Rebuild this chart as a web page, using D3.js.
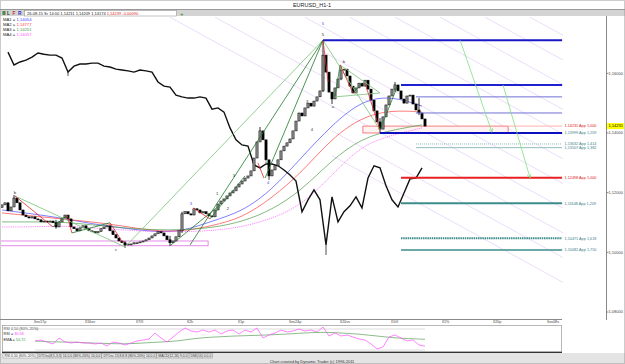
<!DOCTYPE html>
<html>
<head>
<meta charset="utf-8">
<script src="https://cdn.jsdelivr.net/npm/d3@7"></script>
<style>
  body { margin: 0; background: #fff; }
  svg { display: block; font-family: "Liberation Sans", Arial, sans-serif; }
</style>
</head>
<body>
<div id="chart"></div>
<script>
// EURUSD H1 closes, one per bar
const closes = [
  1.1159, 1.1166, 1.1139, 1.1152, 1.1182, 1.1166, 1.1142, 1.1125, 1.1119, 1.1115,
  1.1119, 1.1112, 1.1109, 1.1102, 1.1105, 1.1102, 1.1105, 1.1099, 1.1085, 1.1102,
  1.1115, 1.1125, 1.1112, 1.1085, 1.1079, 1.1072, 1.1082, 1.1089, 1.1079, 1.1072,
  1.1069, 1.1065, 1.1069, 1.1079, 1.1085, 1.1089, 1.1072, 1.1059, 1.1048, 1.1038,
  1.1032, 1.1025, 1.1028, 1.1028, 1.1032, 1.1032, 1.1035, 1.1038, 1.1042, 1.1048,
  1.1055, 1.1062, 1.1069, 1.1065, 1.1055, 1.1042, 1.1032, 1.1038, 1.1052, 1.1072,
  1.1129, 1.1136, 1.1129, 1.1125, 1.1146, 1.1142, 1.1132, 1.1136, 1.1129, 1.1122,
  1.1119, 1.1142, 1.1162, 1.1172, 1.1179, 1.1189, 1.1199, 1.1206, 1.1219, 1.1229,
  1.1239, 1.1249, 1.1256, 1.1273, 1.1316, 1.1370, 1.1407, 1.1377, 1.1310, 1.1256,
  1.1276, 1.1290, 1.1310, 1.1340, 1.1356, 1.1367, 1.1380, 1.1407, 1.1440, 1.1467,
  1.1457, 1.1484, 1.1500, 1.1490, 1.1507, 1.1521, 1.1541, 1.1661, 1.1604, 1.1537,
  1.1514, 1.1551, 1.1581, 1.1611, 1.1614, 1.1591, 1.1557, 1.1534, 1.1551, 1.1567,
  1.1557, 1.1577, 1.1547, 1.1510, 1.1474, 1.1437, 1.1413, 1.1454, 1.1494, 1.1524,
  1.1547, 1.1561, 1.1541, 1.1514, 1.1500, 1.1524, 1.1527, 1.1497, 1.1477, 1.1467,
  1.1447, 1.1423
];
const firstOpen = 1.1150;

// bars with visible wicks
const wickBars = [4, 18, 41, 56, 60, 86, 89, 107, 110, 113, 126, 131, 139];
const wickHigh = [1.1192, 1.1109, 1.1038, 1.1055, 1.1136, 1.1420, 1.1283, 1.1711, 1.1537, 1.1624, 1.1450, 1.1571, 1.1517];
const wickLow  = [1.1159, 1.1079, 1.1015, 1.1022, 1.1065, 1.1377, 1.1243, 1.1537, 1.1497, 1.1577, 1.1400, 1.1537, 1.1460];

// overlaid comparison series, every 2nd bar starting at bar 2
const overlayStart = 2, overlayStep = 2;
const overlayClose = [
  1.1671, 1.1628, 1.1638, 1.1644, 1.1654, 1.1668, 1.1664, 1.1661, 1.1661, 1.1651,
  1.1604, 1.1624, 1.1631, 1.1631, 1.1634, 1.1634, 1.1624, 1.1621, 1.1614, 1.1611,
  1.1608, 1.1604, 1.1611, 1.1608, 1.1604, 1.1571, 1.1557, 1.1554, 1.1527, 1.1521,
  1.1517, 1.1517, 1.1521, 1.1517, 1.1480, 1.1484, 1.1470, 1.1417, 1.1377, 1.1360,
  1.1356, 1.1293, 1.1283, 1.1296, 1.1296, 1.1290, 1.1276, 1.1259, 1.1239, 1.1136,
  1.1176, 1.1209, 1.1176, 1.1025, 1.1186, 1.1102, 1.1136, 1.1156, 1.1186, 1.1149,
  1.1249, 1.1290, 1.1283, 1.1223, 1.1176, 1.1152, 1.1199, 1.1246, 1.1249, 1.1283
];
const overlayWickBars = [22, 108];
const overlayWickLow = [1.1591, 1.0991];

// moving averages sampled every 10 bars
const maBars = [0, 10, 20, 30, 40, 50, 60, 70, 80, 90, 100, 110, 120, 130, 140];
const ma1 = [1.1142, 1.1129, 1.1115, 1.1095, 1.1082, 1.1069, 1.1069, 1.1105, 1.1136, 1.1209, 1.1320, 1.1427, 1.1510, 1.1524, 1.1490];
const ma2 = [1.1132, 1.1122, 1.1112, 1.1102, 1.1089, 1.1072, 1.1069, 1.1089, 1.1115, 1.1182, 1.1269, 1.1383, 1.1454, 1.1477, 1.1470];
const ma3 = [1.1102, 1.1102, 1.1102, 1.1092, 1.1082, 1.1075, 1.1075, 1.1082, 1.1102, 1.1142, 1.1209, 1.1310, 1.1383, 1.1410, 1.1427];
const ma4 = [1.1085, 1.1085, 1.1089, 1.1082, 1.1075, 1.1069, 1.1069, 1.1072, 1.1085, 1.1112, 1.1159, 1.1259, 1.1360, 1.1393, 1.1417];
const maNames = ["MA1", "MA2", "MA3", "MA4"];
const maValues = ["1,14054", "1,14777", "1,14251", "1,14057"];

// projection levels
const levelPrice = [1.1711, 1.1561, 1.1521, 1.1467, 1.14231, 1.1400, 1.13632, 1.13507, 1.12498, 1.11648, 1.10471, 1.10082];
const levelFrom  = [107, 133, 138, 138, 169, 126, 138, 138, 133, 133, 133, 133];
const levelText  = ["", "", "", "", "1,14231 App 1,000", "1,13999 App 1,209", "1,13632 App 1,414", "1,13507 App 1,382",
                    "1,12498 App 1,000", "1,11648 App 1,209", "1,10471 App 1,618", "1,10082 App 1,750"];

// parallel channel lines: start bar at the top price, slope in price per bar
const channelTopPrice = 1.1788;
const channelStartBars = [56, 71, 86, 101, 116, 131, 146, 161, 176];
const channelSlope = -0.000552;
// lower channel lines only drawn from the peak onwards
const channelLowerTopBars = [26, 41];
const channelLowerFrom = 110;

// wave drawing segments [bar, price]
const lightGreenLines = [
  [[4.3, 1.1189], [41, 1.1018]],
  [[41, 1.1018], [107, 1.1711]],
  [[107, 1.1711], [126, 1.1410]],
  [[111, 1.1521], [126, 1.1534]],
  [[112.7, 1.1628], [126, 1.1534]]
];
const darkGreenLines = [
  [[62.7, 1.1025], [107, 1.1711]],
  [[87.7, 1.1249], [107, 1.1711]],
  [[56, 1.1022], [72.7, 1.1159]],
  [[17, 1.1085], [21.7, 1.1125]],
  [[23.3, 1.1065], [36, 1.1099]],
  [[69.3, 1.1112], [81, 1.1256]],
  [[111, 1.1521], [112.7, 1.1628]],
  [[117, 1.1534], [120, 1.1567]],
  [[126, 1.1410], [131.7, 1.1554]]
];
const redLines = [
  [[4.3, 1.1189], [17, 1.1085]],
  [[21.7, 1.1125], [23.3, 1.1065]],
  [[36, 1.1099], [40.3, 1.1032]],
  [[63.7, 1.1149], [69.3, 1.1112]],
  [[85.3, 1.1300], [87.3, 1.1249]],
  [[107, 1.1711], [108.7, 1.1571]],
  [[112.7, 1.1628], [117, 1.1534]],
  [[121, 1.1567], [126, 1.1410]]
];
const arrowFrom = [[152.7, 1.1711], [167, 1.1561]];
const arrowTo   = [[163.3, 1.1403], [176, 1.1250]];

// boxes [bar0, bar1, priceTop, priceBottom]
const redBox  = [120.3, 168.7, 1.14231, 1.1400];
const pinkBox = [-1, 68.7, 1.1038, 1.1022];

const waveText  = ["b", "c", "5", "5", "a", "b", "1", "2", "3", "4", "1", "3", "4", "3"];
const waveBar   = [4.3, 38, 107, 107, 110.3, 114, 71.7, 75.3, 77.3, 88.7, 88, 101.7, 103.3, 63];
const wavePrice = [1.1202, 1.1008, 1.1768, 1.1731, 1.1490, 1.1638, 1.1196, 1.1146, 1.1256, 1.1233, 1.1303, 1.1507, 1.1413, 1.1162];

const priceTicks = [1.16, 1.14, 1.12, 1.10, 1.08];
const lastPrice = 1.14231;
const dateTickBars = [11, 28, 45, 62, 79, 96, 113, 130, 147, 164, 182];
const dateTickLabels = ["ex17p", "16ev", "7/II", "2h", "1p", "ex24p", "20vs", "1tII", "1%", "20p", "ex08s"];

// RSI every 2nd bar from bar 11
const rsiStart = 11, rsiStep = 2;
const rsi = [
  45.7, 48.6, 42.9, 37.1, 54.3, 42.9, 40.0, 42.9, 40.0, 40.0,
  37.1, 40.0, 31.4, 42.9, 40.0, 34.3, 40.0, 45.7, 48.6, 51.4,
  68.6, 54.3, 42.9, 57.1, 71.4, 82.9, 74.3, 71.4, 77.1, 71.4,
  77.1, 65.7, 74.3, 77.1, 65.7, 77.1, 71.4, 82.9, 54.3, 62.9,
  68.6, 77.1, 71.4, 74.3, 80.0, 74.3, 77.1, 71.4, 85.7, 60.0,
  68.6, 60.0, 62.9, 57.1, 51.4, 48.6, 37.1, 22.9, 28.6, 57.1,
  62.9, 54.3, 45.7, 48.6, 34.3, 30.6
];
const emaBars = [11, 17, 23, 29, 35, 41, 47, 53, 59, 65, 71, 77, 83, 89, 95, 101, 107, 113, 119, 125, 131, 137, 141];
const ema = [45.7, 42.9, 42.9, 40.0, 38.6, 37.1, 40.0, 42.9, 45.7, 54.3, 57.1, 60.0, 61.4, 62.9, 65.7, 68.6, 71.4, 68.6, 65.7, 60.0, 54.3, 52.0, 50.7];
const tabs = ["RSI 0,50 (80%-20%)", "DTOsc(8,5,3,3) 14,0,0 (80%-20%) 14,0,0", "DTOsc 13,8,8,8 (80%-20%) 14,0,0", "MACD(12,26) 9,0,0", "DMI(14) 0,0,0"];

const W = 625, H = 364;
const svg = d3.select("#chart").append("svg").attr("width", W).attr("height", H);

const x = d3.scaleLinear().domain([0, 187]).range([2, 563]);
const y = d3.scaleLinear().domain([1.08, 1.16]).range([312, 73.3]);
const yr = d3.scaleLinear().domain([20, 80]).range([350, 329]);
const fmt = (p) => d3.format(".5f")(p).replace(".", ",");

// window chrome
svg.append("rect").attr("width", W).attr("height", H).attr("fill", "#fff");
svg.append("rect").attr("x", 0).attr("y", 9).attr("width", W).attr("height", 7).attr("fill", "#d4d4d4");
svg.append("line").attr("x1", 0).attr("x2", W).attr("y1", 9.5).attr("y2", 9.5).attr("stroke", "#999");
svg.append("rect").attr("x", 0).attr("y", 353).attr("width", W).attr("height", 11).attr("fill", "#e4e4e4");
svg.append("rect").attr("x", 0.5).attr("y", 0.5).attr("width", W - 1).attr("height", H - 1)
  .attr("fill", "none").attr("stroke", "#999").attr("stroke-dasharray", "1,1");
svg.append("text").attr("x", 312).attr("y", 7).attr("text-anchor", "middle")
  .attr("font-size", 5.5).attr("fill", "#222").text("EURUSD_H1-1");

// toolbar
svg.append("rect").attr("x", 24.5).attr("y", 10.5).attr("width", 152).attr("height", 5.5)
  .attr("fill", "#fff").attr("stroke", "#888").attr("stroke-width", 0.5);
[["L", "#333"], ["F", "#c03030"], ["R", "#3030c0"]].forEach(([t, c], k) => {
  svg.append("text").attr("x", 7 + k * 5.5).attr("y", 15).attr("font-size", 4.8)
    .attr("font-weight", "bold").attr("fill", c).text(t);
});
svg.append("rect").attr("x", 2.5).attr("y", 11).attr("width", 3).attr("height", 4).attr("fill", "#4a8a4a");
const ohlc = svg.append("text").attr("x", 27).attr("y", 15).attr("font-size", 4);
ohlc.append("tspan").attr("fill", "#222").text("26-08-15 Sr 14:00   1,14211   1,14209   1,14174   ");
ohlc.append("tspan").attr("fill", "#e02020").text("1,14239   -0,00090");
svg.append("text").attr("x", 180).attr("y", 15.5).attr("font-size", 6).attr("font-weight", "bold")
  .attr("fill", "#3a9a3a").text("+");

// plot area
svg.append("clipPath").attr("id", "plotClip").append("rect")
  .attr("x", 1).attr("y", 16.5).attr("width", 605).attr("height", 302);
const plot = svg.append("g").attr("clip-path", "url(#plotClip)");

// channel lines
const chanEnd = (b) => y(channelTopPrice + channelSlope * (187 - b));
plot.selectAll(".chan").data(channelStartBars).join("line")
  .attr("x1", (b) => x(b)).attr("y1", y(channelTopPrice))
  .attr("x2", x(187)).attr("y2", chanEnd)
  .attr("stroke", "#e2cff6").attr("stroke-width", 0.7);
plot.selectAll(".chanLow").data(channelLowerTopBars).join("line")
  .attr("x1", x(channelLowerFrom)).attr("y1", (b) => y(channelTopPrice + channelSlope * (channelLowerFrom - b)))
  .attr("x2", x(187)).attr("y2", chanEnd)
  .attr("stroke", "#e2cff6").attr("stroke-width", 0.7);

// boxes
plot.append("rect").attr("x", x(pinkBox[0])).attr("width", x(pinkBox[1]) - x(pinkBox[0]))
  .attr("y", y(pinkBox[2])).attr("height", y(pinkBox[3]) - y(pinkBox[2]))
  .attr("fill", "none").attr("stroke", "#e070e0").attr("stroke-width", 0.8);
plot.append("rect").attr("x", x(redBox[0])).attr("width", x(redBox[1]) - x(redBox[0]))
  .attr("y", y(redBox[2])).attr("height", y(redBox[3]) - y(redBox[2]))
  .attr("fill", "#fff2f2").attr("stroke", "#f06060").attr("stroke-width", 0.8);

// moving averages
const maLine = d3.line().x((d) => x(d[0])).y((d) => y(d[1])).curve(d3.curveBasis);
const maColors = ["#4848ff", "#ff4040", "#4c9c4c", "#ff50ff"];
[ma1, ma2, ma3, ma4].forEach((ma, k) => {
  plot.append("path").datum(maBars.map((b, j) => [b, ma[j]])).attr("d", maLine)
    .attr("fill", "none").attr("stroke", maColors[k]).attr("stroke-width", 0.7)
    .attr("stroke-dasharray", k === 3 ? "1.2,1" : null);
});

// overlay series
const ovLine = d3.line().x((d, k) => x(overlayStart + k * overlayStep)).y((d) => y(d));
plot.append("path").datum(overlayClose).attr("d", ovLine)
  .attr("fill", "none").attr("stroke", "#111").attr("stroke-width", 1.4).attr("stroke-linejoin", "miter");
overlayWickBars.forEach((b, k) => {
  plot.append("line").attr("x1", x(b)).attr("x2", x(b))
    .attr("y1", y(overlayClose[(b - overlayStart) / overlayStep])).attr("y2", y(overlayWickLow[k]))
    .attr("stroke", "#222").attr("stroke-width", 0.8);
});

// candles
const openOf = (i) => (i ? closes[i - 1] : firstOpen);
plot.selectAll(".wick").data(wickBars).join("line")
  .attr("x1", (b) => x(b)).attr("x2", (b) => x(b))
  .attr("y1", (b, k) => y(wickHigh[k])).attr("y2", (b, k) => y(wickLow[k]))
  .attr("stroke", "#000").attr("stroke-width", 0.8);
plot.selectAll(".bar").data(closes).join("rect")
  .attr("x", (d, i) => x(i) - 1.1).attr("width", 2.2)
  .attr("y", (d, i) => y(Math.max(d, openOf(i))))
  .attr("height", (d, i) => Math.max(1, Math.abs(y(d) - y(openOf(i)))))
  .attr("fill", (d, i) => (d >= openOf(i) ? "#8c8c8c" : "#000"))
  .attr("stroke", "#000").attr("stroke-width", 0.5);

// wave lines
const seg = (g, lines, color, w) => g.selectAll(null).data(lines).join("line")
  .attr("x1", (d) => x(d[0][0])).attr("y1", (d) => y(d[0][1]))
  .attr("x2", (d) => x(d[1][0])).attr("y2", (d) => y(d[1][1]))
  .attr("stroke", color).attr("stroke-width", w);
seg(plot, lightGreenLines, "#88c888", 0.9);
seg(plot, darkGreenLines, "#1f7a2a", 0.8);
seg(plot, redLines, "#e02828", 0.8);

// projection levels
const levelStyle = [
  { c: "#1818c8", w: 2 }, { c: "#2020d0", w: 2 }, { c: "#7070d8", w: 1 }, { c: "#7070d8", w: 1 },
  { c: "#ffb0b0", w: 1 }, { c: "#0c0cc0", w: 2 }, { c: "#90bcbc", w: 1, d: "1,1" }, { c: "#90bcbc", w: 1 },
  { c: "#e82020", w: 2 }, { c: "#3d8c8c", w: 2 }, { c: "#3d8c8c", w: 2, d: "1.5,0.7" }, { c: "#3d8c8c", w: 1.5 }
];
plot.selectAll(".lvl").data(levelPrice).join("line")
  .attr("x1", (p, k) => x(levelFrom[k])).attr("x2", x(186.7))
  .attr("y1", (p) => y(p)).attr("y2", (p) => y(p))
  .attr("stroke", (p, k) => levelStyle[k].c).attr("stroke-width", (p, k) => levelStyle[k].w)
  .attr("stroke-dasharray", (p, k) => levelStyle[k].d || null);
plot.selectAll(".lvlText").data(levelPrice).join("text")
  .attr("x", x(187) + 1.5).attr("y", (p) => y(p) + 1.4)
  .attr("font-size", 3.8)
  .attr("fill", (p, k) => (levelText[k].endsWith("1,000") ? "#e02020" : "#3d7f8a"))
  .text((p, k) => levelText[k]);

// arrows
const defs = svg.append("defs");
defs.append("marker").attr("id", "arr").attr("viewBox", "0 0 10 10").attr("refX", 9).attr("refY", 5)
  .attr("markerWidth", 5).attr("markerHeight", 5).attr("orient", "auto")
  .append("path").attr("d", "M0,0L10,5L0,10").attr("fill", "none").attr("stroke", "#70d870").attr("stroke-width", 1.5);
plot.selectAll(".arrow").data(arrowFrom).join("line")
  .attr("x1", (d) => x(d[0])).attr("y1", (d) => y(d[1]))
  .attr("x2", (d, k) => x(arrowTo[k][0])).attr("y2", (d, k) => y(arrowTo[k][1]))
  .attr("stroke", "#80e080").attr("stroke-width", 0.8).attr("marker-end", "url(#arr)");

// wave labels
plot.selectAll(".wave").data(waveText).join("text")
  .attr("x", (t, k) => x(waveBar[k])).attr("y", (t, k) => y(wavePrice[k]) + 1.5)
  .attr("text-anchor", "middle").attr("font-size", 4.2)
  .attr("fill", (t, k) => ([2, 9, 13].includes(k) ? "#4a4aff" : "#333"))
  .text((t) => t);

// MA legend
maNames.forEach((n, k) => {
  const t = svg.append("text").attr("x", 3).attr("y", 20.5 + k * 5).attr("font-size", 4.2);
  t.append("tspan").attr("fill", "#222").text(n + " = ");
  t.append("tspan").attr("fill", maColors[k]).text(maValues[k]);
});

// price axis
svg.append("line").attr("x1", 606.5).attr("x2", 606.5).attr("y1", 16).attr("y2", 320).attr("stroke", "#888");
svg.selectAll(".pt").data(priceTicks).join("line")
  .attr("x1", 606).attr("x2", 608.5).attr("y1", (p) => y(p)).attr("y2", (p) => y(p)).attr("stroke", "#888");
svg.selectAll(".ptl").data(priceTicks).join("text")
  .attr("x", 608.5).attr("y", (p) => y(p) + 1.4).attr("font-size", 4).attr("fill", "#444")
  .text((p) => fmt(p));
svg.append("rect").attr("x", 607).attr("y", y(lastPrice) - 3).attr("width", 17).attr("height", 6).attr("fill", "#ffff00");
svg.append("text").attr("x", 608.5).attr("y", y(lastPrice) + 1.4).attr("font-size", 4).attr("fill", "#000").text(fmt(lastPrice));

// date axis
svg.append("line").attr("x1", 0).attr("x2", 562).attr("y1", 319.5).attr("y2", 319.5).attr("stroke", "#888");
svg.selectAll(".dt").data(dateTickBars).join("line")
  .attr("x1", (b) => x(b)).attr("x2", (b) => x(b)).attr("y1", 319).attr("y2", 323).attr("stroke", "#888");
svg.selectAll(".dtl").data(dateTickBars).join("text")
  .attr("x", (b) => x(b) + 1).attr("y", 323.3).attr("font-size", 3.8).attr("fill", "#444")
  .text((b, k) => dateTickLabels[k]);

// RSI panel
svg.append("rect").attr("x", 2.5).attr("y", 325.5).attr("width", 559).attr("height", 26.5)
  .attr("fill", "#fff").attr("stroke", "#888").attr("stroke-width", 0.6);
svg.append("line").attr("x1", 2).attr("x2", 562).attr("y1", 352.3).attr("y2", 352.3).attr("stroke", "#333").attr("stroke-width", 1.2);
[80, 20].forEach((v) => {
  svg.append("line").attr("x1", x(rsiStart)).attr("x2", x(141)).attr("y1", yr(v)).attr("y2", yr(v))
    .attr("stroke", "#c8c8c8").attr("stroke-width", 0.6);
});
svg.append("path").datum(ema)
  .attr("d", d3.line().x((d, k) => x(emaBars[k])).y((d) => yr(d)).curve(d3.curveBasis))
  .attr("fill", "none").attr("stroke", "#5aa05a").attr("stroke-width", 0.7);
svg.append("path").datum(rsi)
  .attr("d", d3.line().x((d, k) => x(rsiStart + k * rsiStep)).y((d) => yr(d)))
  .attr("fill", "none").attr("stroke", "#ff50ff").attr("stroke-width", 0.7);
svg.append("text").attr("x", 3.5).attr("y", 329.5).attr("font-size", 3.8).attr("fill", "#444").text("RSI 0,50 (80%-20%)");
const rsiT = svg.append("text").attr("x", 3.5).attr("y", 335).attr("font-size", 3.8);
rsiT.append("tspan").attr("fill", "#222").text("RSI = ");
rsiT.append("tspan").attr("fill", "#ff40ff").text("30,58");
const emaT = svg.append("text").attr("x", 3.5).attr("y", 340.5).attr("font-size", 3.8);
emaT.append("tspan").attr("fill", "#222").text("EMA = ");
emaT.append("tspan").attr("fill", "#40a040").text("50,72");

// indicator tabs
let tx = 3;
tabs.forEach((t, k) => {
  const g = svg.append("g");
  const txt = g.append("text").attr("x", tx + 1.5).attr("y", 357.3).attr("font-size", 3.4).attr("fill", "#333").text(t);
  const w = txt.node().getComputedTextLength() + 3;
  g.insert("rect", "text").attr("x", tx).attr("y", 353.5).attr("width", w).attr("height", 4.5)
    .attr("fill", k === 0 ? "#fff" : "#e8e8e8").attr("stroke", "#777").attr("stroke-width", 0.4);
  tx += w;
});
svg.append("text").attr("x", 312).attr("y", 362.5).attr("text-anchor", "middle").attr("font-size", 4)
  .attr("fill", "#333").text("Chart created by Dynamic Trader (c) 1996-2011");
</script>
</body>
</html>
